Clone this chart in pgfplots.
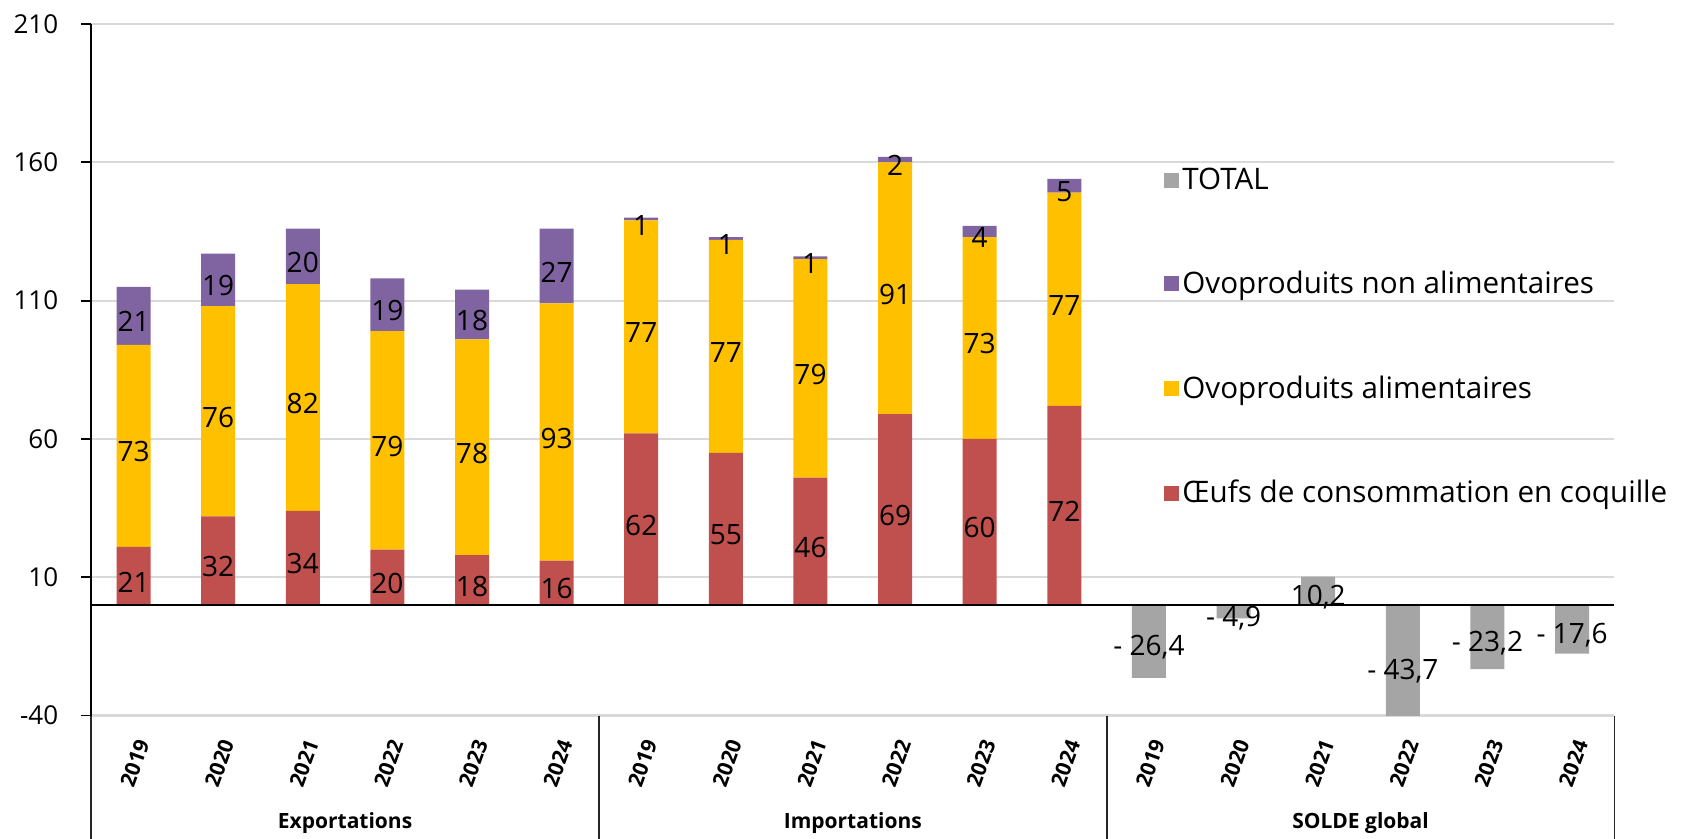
\documentclass[border=0pt]{standalone}
\usepackage{pgfplots}
\usepackage{pgfplotstable}
\pgfplotsset{compat=1.18}
\usepackage{fontspec}
\setmainfont{Open Sans}
\definecolor{cred}{HTML}{C0504D}
\definecolor{cyel}{HTML}{FFC000}
\definecolor{cpur}{HTML}{8064A2}
\definecolor{cgry}{HTML}{A5A5A5}
\definecolor{cgrid}{HTML}{D9D9D9}

\pgfplotstableread{
x r y p t
0 21 73 21 0
1 32 76 19 0
2 34 82 20 0
3 20 79 19 0
4 18 78 18 0
5 16 93 27 0
6 62 77 1 0
7 55 77 1 0
8 46 79 1 0
9 69 91 2 0
10 60 73 4 0
11 72 77 5 0
12 0 0 0 -26.4
13 0 0 0 -4.9
14 0 0 0 10.2
15 0 0 0 -43.7
16 0 0 0 -23.2
17 0 0 0 -17.6
}\data

\pgfplotstableread[col sep=semicolon]{
x;ym;lab
0;10.5;21
1;16;32
2;17;34
3;10;20
4;9;18
5;8;16
6;31;62
7;27.5;55
8;23;46
9;34.5;69
10;30;60
11;36;72
0;57.5;73
1;70;76
2;75;82
3;59.5;79
4;57;78
5;62.5;93
6;100.5;77
7;93.5;77
8;85.5;79
9;114.5;91
10;96.5;73
11;110.5;77
0;104.5;21
1;117.5;19
2;126;20
3;108.5;19
4;105;18
5;122.5;27
6;139.5;1
7;132.5;1
8;125.5;1
9;161;2
10;135;4
11;151.5;5
12;-13.2;- 26,4
13;-2.45;- 4,9
14;5.1;10,2
15;-21.85;- 43,7
16;-11.6;- 23,2
17;-8.8;- 17,6
}\labels

\begin{document}
\begin{tikzpicture}
\useasboundingbox (-45.6pt,-61.7pt) rectangle (795.4pt,357.8pt);
\begin{axis}[
  at={(0,0)}, anchor=south west,
  scale only axis, width=761.6pt, height=345.8pt,
  ybar stacked, bar width=17pt,
  xmin=-0.5, xmax=17.5, ymin=-40, ymax=210,
  ytick={-40,10,60,110,160,210},
  yticklabels={-40,10,60,110,160,210},
  ymajorgrids, major grid style={cgrid, line width=1.1pt},
  axis x line*=bottom, axis y line*=left,
  x axis line style={draw=none},
  y axis line style={black, line width=0.9pt},
  xtick={0,...,17},
  xticklabels={2019,2020,2021,2022,2023,2024,2019,2020,2021,2022,2023,2024,2019,2020,2021,2022,2023,2024},
  xtick style={draw=none},
  ytick style={black, line width=0.9pt},
  tick align=outside, major tick length=5pt,
  yticklabel style={font=\fontsize{13}{15}\selectfont, xshift=-8pt},
  xticklabel style={rotate=70, anchor=east, font=\bfseries\fontsize{10.5}{12}\selectfont, yshift=-7pt, xshift=-2pt},
  reverse legend,
  legend image code/.code={\fill[#1] (0pt,-3.75pt) rectangle (7.5pt,3.75pt);},
  legend style={at={(0.7043,0.797)}, anchor=north west, draw=none, fill=none,
    font=\fontsize{14.8}{17}\selectfont, row sep=36.5pt, inner sep=0pt,
    nodes={inner sep=1.5pt}},
  legend cell align=left,
]
\addplot[fill=cred, draw=none] table[x=x, y=r]{\data};
\addlegendentry{Œufs de consommation en coquille}
\addplot[fill=cyel, draw=none] table[x=x, y=y]{\data};
\addlegendentry{Ovoproduits alimentaires}
\addplot[fill=cpur, draw=none] table[x=x, y=p]{\data};
\addlegendentry{Ovoproduits non alimentaires}
\addplot[fill=cgry, draw=none] table[x=x, y=t]{\data};
\addlegendentry{TOTAL}
\end{axis}
\begin{axis}[
  at={(0,0)}, anchor=south west,
  scale only axis, width=761.6pt, height=345.8pt,
  xmin=-0.5, xmax=17.5, ymin=-40, ymax=210,
  hide axis, clip=false,
]
\draw[black, line width=1.1pt] (axis cs:-0.5,0) -- (axis cs:17.5,0);
\addplot[draw=none, mark=none, nodes near coords, point meta=explicit symbolic,
  every node near coord/.style={anchor=center, yshift=-3pt, font=\fontsize{14}{16}\selectfont, text=black}]
  table[x=x, y=ym, meta=lab]{\labels};
\draw[black!85, line width=0.9pt] (axis cs:-0.5,-40) -- ([yshift=-62pt]axis cs:-0.5,-40);
\draw[black!85, line width=0.9pt] (axis cs:5.5,-40) -- ([yshift=-62pt]axis cs:5.5,-40);
\draw[black!85, line width=0.9pt] (axis cs:11.5,-40) -- ([yshift=-62pt]axis cs:11.5,-40);
\draw[black!85, line width=0.9pt] (axis cs:17.5,-40) -- ([yshift=-62pt]axis cs:17.5,-40);
\node[font=\bfseries\fontsize{10.5}{12}\selectfont] at ([yshift=-53.6pt]axis cs:2.5,-40) {Exportations};
\node[font=\bfseries\fontsize{10.5}{12}\selectfont] at ([yshift=-53.6pt]axis cs:8.5,-40) {Importations};
\node[font=\bfseries\fontsize{10.5}{12}\selectfont] at ([yshift=-53.6pt]axis cs:14.5,-40) {SOLDE global};
\end{axis}
\end{tikzpicture}
\end{document}
